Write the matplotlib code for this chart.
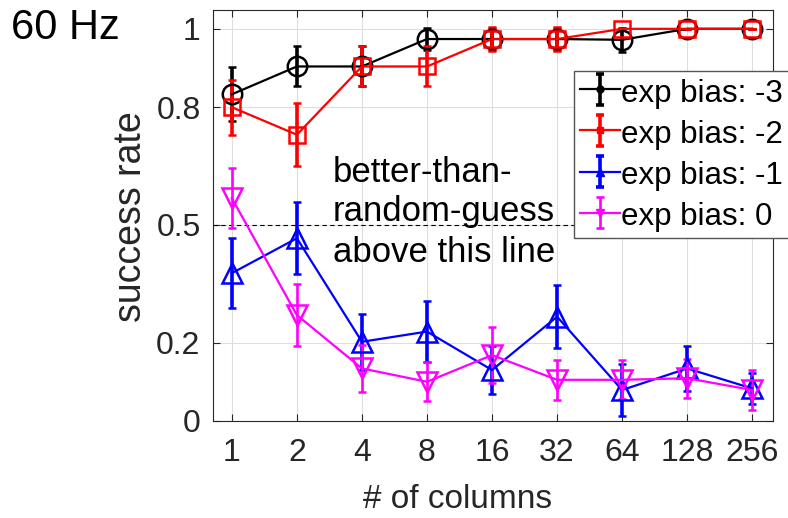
import numpy as np
import matplotlib
matplotlib.use("Agg")
import matplotlib.pyplot as plt

plt.rcParams['font.family'] = ['Liberation Sans', 'DejaVu Sans']

columns = [1, 2, 4, 8, 16, 32, 64, 128, 256]
col_labels = ['1', '2', '4', '8', '16', '32', '64', '128', '256']

bias_m3 = [0.833, 0.904, 0.904, 0.974, 0.974, 0.974, 0.972, 1.0, 1.0]
err_m3 = [0.069, 0.051, 0.051, 0.028, 0.028, 0.028, 0.03, 0.0, 0.0]

bias_m2 = [0.80, 0.73, 0.904, 0.904, 0.974, 0.974, 1.0, 1.0, 1.0]
err_m2 = [0.07, 0.08, 0.051, 0.051, 0.03, 0.03, 0.0, 0.0, 0.0]

bias_m1 = [0.377, 0.466, 0.202, 0.228, 0.13, 0.266, 0.079, 0.134, 0.083]
err_m1 = [0.09, 0.092, 0.071, 0.077, 0.06, 0.08, 0.066, 0.058, 0.04]

bias_0 = [0.568, 0.27, 0.134, 0.10, 0.168, 0.105, 0.105, 0.109, 0.079]
err_0 = [0.077, 0.08, 0.06, 0.05, 0.071, 0.051, 0.05, 0.05, 0.051]

labels = ['exp bias: -3', 'exp bias: -2', 'exp bias: -1', 'exp bias: 0']
yticks = [0, 0.2, 0.5, 0.8, 1]
ytick_labels = ['0', '0.2', '0.5', '0.8', '1']

fig = plt.figure(figsize=(7.88, 5.18), dpi=100)
ax = fig.add_axes([213/788, 1-421/518, 560/788, 411/518])

series = [
    (bias_m3, err_m3, 'k', 'o', 14, 2.6),
    (bias_m2, err_m2, (1, 0, 0), 's', 11, 2.6),
    (bias_m1, err_m1, (0, 0, 1), '^', 15, 2.6),
    (bias_0, err_0, (1, 0, 1), 'v', 15, 1.9),
]

ax.axhline(0.5, color='k', ls=(0, (4, 3)), lw=0.8, zorder=1)

handles = []
for (vals, errs, c, m, ms, elw), lab in zip(series, labels):
    ax.errorbar(columns, vals, yerr=errs, color=c, marker=m, ms=ms,
                mfc='none', mec=c, mew=1.8, lw=1.6, elinewidth=elw,
                capsize=3, capthick=elw, zorder=3)
    small = {'o': 5, 's': 5, '^': 6, 'v': 6}[m]
    h = ax.errorbar([np.nan], [np.nan], yerr=[0.0], color=c, marker=m,
                    ms=small, mfc=c, mec=c, lw=1.6, elinewidth=elw,
                    capsize=3, capthick=elw, label=lab)
    handles.append(h)

ax.set_xscale('log', base=2)
ax.set_xlim(2**-0.29, 2**8.32)
ax.set_ylim(0, 1.048)
ax.set_xticks(columns)
ax.set_xticklabels(col_labels)
ax.xaxis.set_minor_locator(matplotlib.ticker.NullLocator())
ax.set_yticks(yticks)
ax.set_yticklabels(ytick_labels)
ax.grid(True, color='#dedede', lw=0.8, zorder=0)
ax.set_axisbelow(True)
ax.tick_params(direction='in', top=True, right=True, length=5,
               labelsize=23, colors='#262626', pad=9)
ax.tick_params(axis='x', pad=12)
for s in ax.spines.values():
    s.set_color('#262626')
    s.set_linewidth(0.8)

leg = ax.legend(handles=handles, labels=labels, loc='upper left',
                bbox_to_anchor=(0.645, 0.852), borderaxespad=0,
                fontsize=22.5, handlelength=1.25, handletextpad=0.05,
                labelspacing=0.3, borderpad=0.2, fancybox=False,
                framealpha=1, edgecolor='#555555', handleheight=1.0)
leg.get_frame().set_linewidth(1.0)
leg.set_zorder(5)

txt_lines = ['better-than-', 'random-guess', 'above this line']
for t, yb in zip(txt_lines, [182, 221, 262]):
    ax.text((333-213)/560, (421-yb)/411, t, transform=ax.transAxes,
            fontsize=25, va='baseline', ha='left', color='k', zorder=4)

fig.text(131/788, 1-217/518, 'success rate', rotation=90, fontsize=27,
         ha='center', va='center', color='#262626')
fig.text(458/788, 1-499/518, '# of columns', fontsize=24,
         ha='center', va='center', color='#262626')
fig.text(11/788, 1-39/518, '60 Hz', fontsize=30, ha='left',
         va='baseline', color='k')

fig.savefig('out.png', dpi=100)
